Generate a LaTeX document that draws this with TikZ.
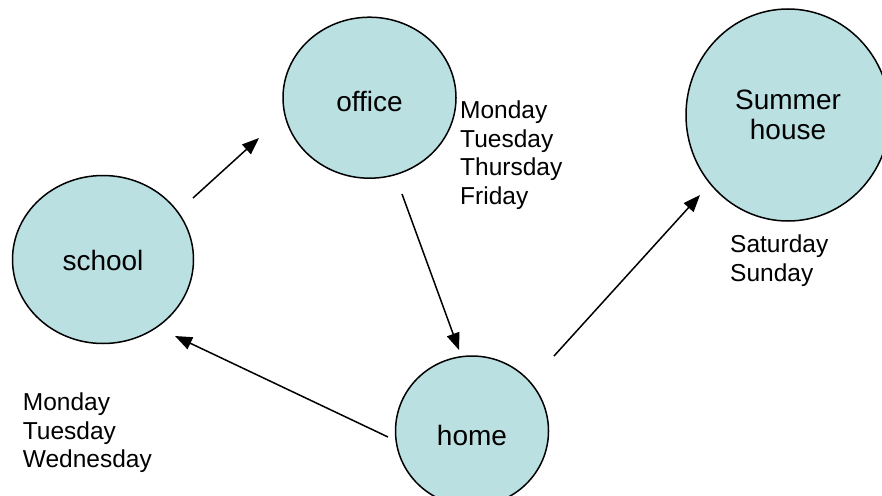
\documentclass[tikz,border=0pt]{standalone}
\usepackage{fontspec}
\setmainfont{Liberation Sans}
\usetikzlibrary{shapes.geometric,arrows.meta}
\definecolor{nodefill}{RGB}{186,224,226}
\tikzset{
  place/.style={ellipse, draw=black, line width=1.5pt, fill=nodefill, inner sep=0pt,
    font=\fontsize{28}{30}\selectfont, text height=28pt, text depth=0pt, align=center},
  days/.style={anchor=base west, inner sep=0pt, align=left, font=\fontsize{24.5}{28.5}\selectfont},
  link/.style={line width=1.5pt, -{Triangle[length=17pt,width=13pt]}}
}
\begin{document}
\begin{tikzpicture}[x=1pt,y=-1pt]
\useasboundingbox (0,0) rectangle (882,495);
\begin{scope}
\clip (0,0) rectangle (882,495);
\node[place, minimum width=173pt, minimum height=161pt] (office) at (369.5,97.7) {office};
\node[place, minimum width=181pt, minimum height=168pt, text height=21pt] (school) at (103,259.5) {school};
\node[place, minimum width=153pt, minimum height=150pt, text height=29.4pt] (home) at (472,431) {home};
\node[place, minimum width=204pt, minimum height=212pt, text height=, text depth=] (summer) at (788,115) {Summer\\house};
\end{scope}
\node[days] (officedays) at (460,204.3) {Monday\\Tuesday\\Thursday\\Friday};
\node[days] (summerdays) at (730,281) {Saturday\\Sunday};
\node[days] (schooldays) at (22.7,467.7) {Monday\\Tuesday\\Wednesday};
\coordinate (s1) at (193,198);
\coordinate (o1) at (259,138);
\coordinate (o2) at (402,194);
\coordinate (h1) at (459,350);
\coordinate (h2) at (388,437);
\coordinate (s2) at (175,336);
\coordinate (h3) at (554,356);
\coordinate (u1) at (700,195);
\draw[link] (s1) -- (o1);
\draw[link] (o2) -- (h1);
\draw[link] (h2) -- (s2);
\draw[link] (h3) -- (u1);
\end{tikzpicture}
\end{document}
